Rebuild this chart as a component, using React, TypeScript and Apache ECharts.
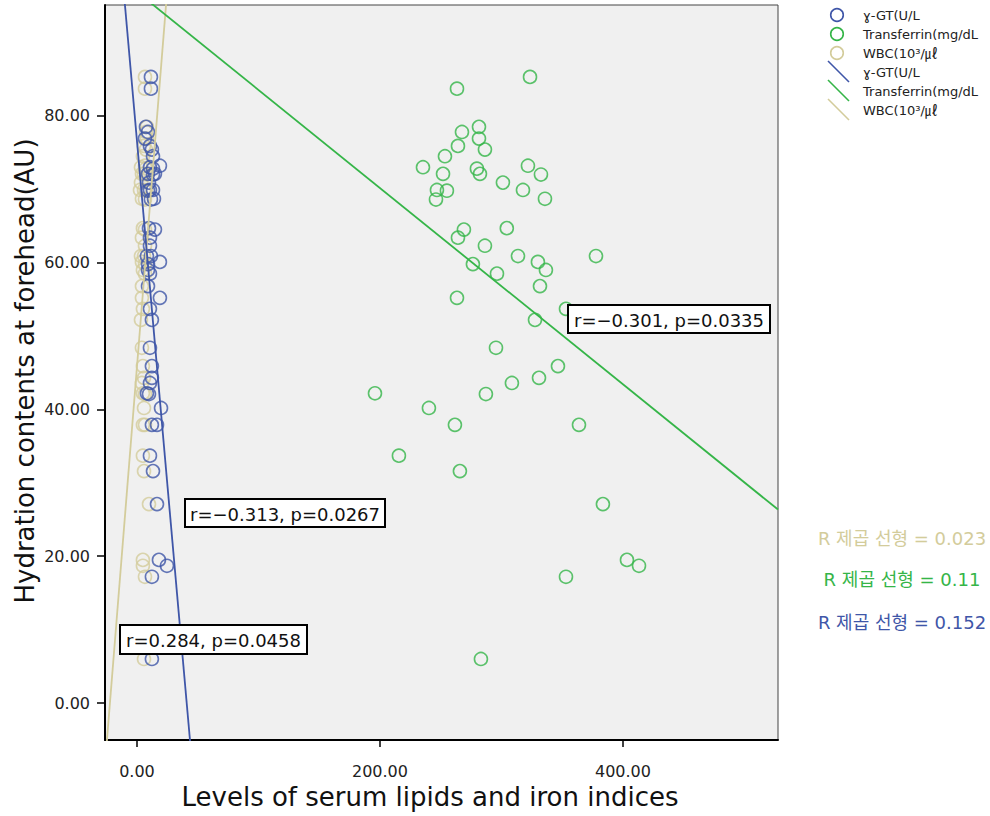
import React, { useEffect, useRef } from "react";
import * as echarts from "echarts";

// Hydration contents at forehead (AU) per subject
const hydration = [
  85.3, 83.7, 78.5, 77.8, 76.9, 75.9, 75.4, 74.5, 73.2, 73.0,
  72.8, 72.1, 72.1, 72.0, 70.9, 69.9, 69.9, 69.8, 68.7, 68.6,
  64.7, 64.5, 63.4, 62.3, 60.9, 60.9, 60.1, 59.8, 59.0, 58.5,
  56.8, 55.2, 53.7, 52.2, 48.4, 45.9, 44.3, 43.6, 42.2, 42.1,
  40.2, 37.9, 37.9, 33.7, 31.6, 27.1, 19.5, 18.7, 17.2, 6.0,
];
// Transferrin (mg/dL)
const transferrin = [
  323.5, 263.4, 281.5, 267.5, 281.5, 264.2, 286.4, 253.5, 321.8, 235.4,
  279.8, 251.9, 282.3, 332.5, 301.2, 317.7, 246.9, 255.1, 335.8, 246.1,
  304.4, 269.1, 264.2, 286.4, 313.6, 377.8, 330.0, 276.5, 336.6, 296.3,
  331.7, 263.4, 353.1, 327.6, 295.5, 346.5, 330.9, 308.6, 195.9, 287.2,
  240.3, 261.7, 363.8, 215.6, 265.8, 383.5, 403.3, 413.2, 353.1, 283.1,
];
// γ-GT (U/L)
const ggt = [
  11.5, 11.5, 7.4, 9.1, 6.6, 10.7, 12.3, 13.2, 18.9, 10.7,
  13.2, 14.8, 9.1, 13.2, 9.9, 13.2, 10.7, 9.1, 14.0, 11.5,
  9.9, 14.8, 10.7, 10.7, 8.2, 11.5, 18.9, 9.1, 9.1, 10.7,
  9.1, 18.9, 10.7, 12.3, 10.7, 12.3, 12.3, 10.7, 8.2, 9.9,
  19.8, 16.5, 12.3, 10.7, 13.2, 16.5, 18.1, 24.7, 12.3, 12.3,
];
// WBC (10³/㎕)
const wbc = [
  6.6, 6.6, 8.2, 7.4, 8.2, 5.8, 7.4, 4.9, 6.6, 3.3,
  7.4, 5.8, 4.1, 8.2, 3.3, 5.8, 2.5, 7.4, 4.1, 6.6,
  4.9, 6.6, 4.1, 6.6, 3.3, 5.8, 4.1, 6.6, 4.9, 6.6,
  4.1, 4.1, 4.9, 3.3, 4.1, 4.9, 5.8, 4.1, 4.9, 6.6,
  5.8, 6.6, 4.9, 4.9, 5.8, 9.9, 4.9, 4.9, 6.6, 5.8,
];

const seriesNames = ["ɣ-GT(U/L", "Transferrin(mg/dL", "WBC(10³/㎕"];
// fit lines: [intercept, slope]
const fitGgt = [76.6, -1.871];
const fitTransferrin = [96.9, -0.1337];
const fitWbc = [45.8, 2.06];
const corrTexts = ["r=−0.313, p=0.0267", "r=−0.301, p=0.0335", "r=0.284, p=0.0458"];
const rSquaredTexts = ["R 제곱 선형 = 0.152", "R 제곱 선형 = 0.11", "R 제곱 선형 = 0.023"];
const xTicks = [0, 200, 400];
const yTicks = [0, 20, 40, 60, 80];

const X_MIN = -26.3;
const X_MAX = 527.6;
const Y_MIN = -5.04;
const Y_MAX = 95.1;

const BLUE = "#3f56a8";
const GREEN = "#35b548";
const TAN = "#d3cc9b";
const FONT = "'DejaVu Sans', 'Noto Sans CJK KR', sans-serif";

function pairs(xs: number[]) {
  return xs.map((x, i) => [x, hydration[i]]);
}
function fitLine(f: number[]) {
  return [
    [X_MIN, f[0] + f[1] * X_MIN],
    [X_MAX, f[0] + f[1] * X_MAX],
  ];
}

export default function App() {
  const ref = useRef<HTMLDivElement>(null);
  useEffect(() => {
    if (!ref.current) return;
    const chart = echarts.init(ref.current, null, { renderer: "svg" });
    const scatterBase = {
      type: "scatter",
      symbol: "circle",
      symbolSize: 13,
      itemStyle: { color: "transparent", borderWidth: 1.6 },
    };
    const lineBase = {
      type: "line",
      symbol: "none",
      clip: true,
      lineStyle: { width: 1.8 },
    };
    const legendRows = [
      { kind: "c", color: BLUE, name: seriesNames[0] },
      { kind: "c", color: GREEN, name: seriesNames[1] },
      { kind: "c", color: TAN, name: seriesNames[2] },
      { kind: "l", color: BLUE, name: seriesNames[0] },
      { kind: "l", color: GREEN, name: seriesNames[1] },
      { kind: "l", color: TAN, name: seriesNames[2] },
    ];
    const legendGraphics: any[] = [];
    legendRows.forEach((r, i) => {
      const cy = 15 + i * 19;
      if (r.kind === "c") {
        legendGraphics.push({
          type: "circle",
          shape: { cx: 837, cy, r: 6.3 },
          style: { fill: "transparent", stroke: r.color, lineWidth: 1.6 },
        });
      } else {
        legendGraphics.push({
          type: "line",
          shape: { x1: 828, y1: cy - 11, x2: 849, y2: cy + 10 },
          style: { stroke: r.color, lineWidth: 1.6 },
        });
      }
      legendGraphics.push({
        type: "text",
        x: 863,
        y: cy,
        style: {
          text: r.name,
          font: `13px ${FONT}`,
          fill: "#222",
          textAlign: "left",
          textVerticalAlign: "middle",
        },
      });
    });
    const boxes = [
      { x: 185, y: 499, w: 200, h: 28, t: corrTexts[0] },
      { x: 568, y: 305, w: 202, h: 28, t: corrTexts[1] },
      { x: 120, y: 625, w: 187, h: 29, t: corrTexts[2] },
    ];
    const boxGraphics: any[] = [];
    boxes.forEach((b) => {
      boxGraphics.push({
        type: "rect",
        z: 100,
        shape: { x: b.x, y: b.y, width: b.w, height: b.h },
        style: { fill: "#ffffff", stroke: "#000", lineWidth: 2 },
      });
      boxGraphics.push({
        type: "text",
        z: 101,
        x: b.x + b.w / 2,
        y: b.y + b.h / 2 + 1,
        style: {
          text: b.t,
          font: `18px ${FONT}`,
          fill: "#111",
          textAlign: "center",
          textVerticalAlign: "middle",
        },
      });
    });
    const r2Colors = [BLUE, GREEN, TAN];
    const r2Y = [622, 579, 538];
    const r2Graphics = rSquaredTexts.map((t, i) => ({
      type: "text",
      x: 902,
      y: r2Y[i],
      style: {
        text: t,
        font: `18px ${FONT}`,
        fill: r2Colors[i],
        textAlign: "center",
        textVerticalAlign: "middle",
      },
    }));

    chart.setOption({
      animation: false,
      backgroundColor: "#ffffff",
      grid: {
        left: 105,
        top: 5,
        width: 673,
        height: 735,
        show: true,
        backgroundColor: "#f0f0f0",
        borderColor: "#444",
        borderWidth: 1,
        outerBoundsMode: "none",
      },
      xAxis: {
        type: "value",
        min: X_MIN,
        max: X_MAX,
        axisLine: { show: true, onZero: false, lineStyle: { color: "#000", width: 2 } },
        axisTick: { show: true, customValues: xTicks, length: 7, lineStyle: { color: "#000", width: 1.5 } },
        axisLabel: {
          customValues: xTicks,
          formatter: (v: number) => v.toFixed(2),
          fontSize: 16,
          fontFamily: FONT,
          color: "#222",
          margin: 23,
        },
        splitLine: { show: false },
      },
      yAxis: {
        type: "value",
        min: Y_MIN,
        max: Y_MAX,
        axisLine: { show: true, onZero: false, lineStyle: { color: "#000", width: 2 } },
        axisTick: { show: true, customValues: yTicks, length: 8, lineStyle: { color: "#000", width: 1.5 } },
        axisLabel: {
          customValues: yTicks,
          formatter: (v: number) => v.toFixed(2),
          fontSize: 16,
          fontFamily: FONT,
          color: "#222",
          margin: 15,
        },
        splitLine: { show: false },
      },
      series: [
        { ...scatterBase, name: seriesNames[2], data: pairs(wbc), itemStyle: { ...scatterBase.itemStyle, borderColor: TAN } },
        { ...scatterBase, name: seriesNames[0], data: pairs(ggt), itemStyle: { ...scatterBase.itemStyle, borderColor: BLUE } },
        { ...scatterBase, name: seriesNames[1], data: pairs(transferrin), itemStyle: { ...scatterBase.itemStyle, borderColor: GREEN } },
        { ...lineBase, name: seriesNames[2] + " fit", data: fitLine(fitWbc), lineStyle: { ...lineBase.lineStyle, color: TAN }, itemStyle: { color: TAN } },
        { ...lineBase, name: seriesNames[0] + " fit", data: fitLine(fitGgt), lineStyle: { ...lineBase.lineStyle, color: BLUE }, itemStyle: { color: BLUE } },
        { ...lineBase, name: seriesNames[1] + " fit", data: fitLine(fitTransferrin), lineStyle: { ...lineBase.lineStyle, color: GREEN }, itemStyle: { color: GREEN } },
      ],
      graphic: [
        {
          type: "text",
          x: 25,
          y: 371,
          rotation: Math.PI / 2,
          style: {
            text: "Hydration contents at forehead(AU)",
            font: `26px ${FONT}`,
            fill: "#111",
            textAlign: "center",
            textVerticalAlign: "middle",
          },
        },
        {
          type: "text",
          x: 430,
          y: 797,
          style: {
            text: "Levels of serum lipids and iron indices",
            font: `26px ${FONT}`,
            fill: "#111",
            textAlign: "center",
            textVerticalAlign: "middle",
          },
        },
        ...legendGraphics,
        ...boxGraphics,
        ...r2Graphics,
      ],
    });
    return () => chart.dispose();
  }, []);
  return (
    <div
      ref={ref}
      style={{ position: "fixed", left: 0, top: 0, width: 990, height: 816 }}
    />
  );
}
